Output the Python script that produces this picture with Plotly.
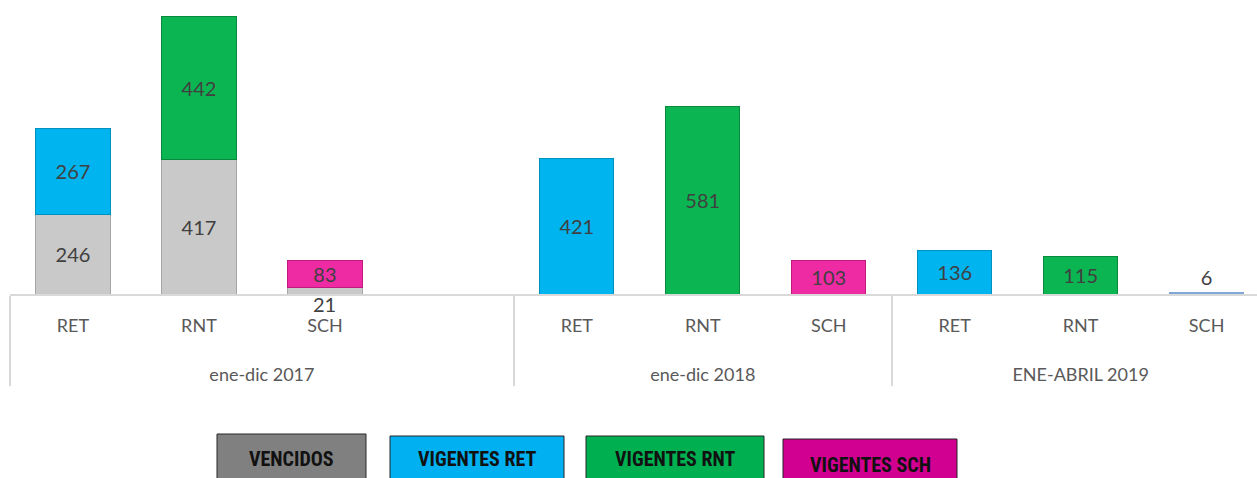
import plotly.graph_objects as go

# categories (the 2017 group carries an empty fourth slot)
periods = ["ene-dic 2017"] * 4 + ["ene-dic 2018"] * 3 + ["ENE-ABRIL 2019"] * 3
types = ["RET", "RNT", "SCH", " ", "RET", "RNT", "SCH", "RET", "RNT", "SCH"]

vencidos = [246, 417, 21, None, None, None, None, None, None, None]
vigentes_ret = [267, None, None, None, 421, None, None, 136, None, None]
vigentes_rnt = [None, 442, None, None, None, 581, None, None, 115, None]
vigentes_sch = [None, None, 83, None, None, None, 103, None, None, 6]

legend_names = ["VENCIDOS", "VIGENTES RET", "VIGENTES RNT", "VIGENTES SCH"]

W, H = 1257, 478
M_L, M_R, M_T, M_B = 10, 0, 5, 184
PLOT_H = H - M_T - M_B

LABEL_FONT = dict(family="Lato, 'Open Sans', sans-serif", size=20, color="#404040")
AXIS_FONT = dict(family="Lato, 'Open Sans', sans-serif", size=18, color="#595959")

# trailing spacer line under each sub label pushes the period row down
SPACER = "<br><span style='font-size:51px'> </span>"

fig = go.Figure()


def add_series(values, color, edge, name, text=None, positions="inside"):
    if text is None:
        text = ["" if v is None else str(v) for v in values]
    fig.add_trace(go.Bar(
        x=[periods, [t + SPACER for t in types]], y=values, name=name,
        marker=dict(color=color, line=dict(color=edge, width=1)),
        text=text, texttemplate="%{text}", textangle=0,
        textposition=positions, insidetextanchor="middle",
        textfont=LABEL_FONT, outsidetextfont=LABEL_FONT, insidetextfont=LABEL_FONT,
        constraintext="none", cliponaxis=False,
        showlegend=False, hoverinfo="skip",
    ))


# the small vencidos SCH value is written below the axis, not inside its bar
ven_text = ["" if (v is None or i == 2) else str(v) for i, v in enumerate(vencidos)]
add_series(vencidos, "#c9c9c9", "#a6a6a6", legend_names[0], text=ven_text)
add_series(vigentes_ret, "#00b4f0", "#0090c0", legend_names[1])
add_series(vigentes_rnt, "#0bb552", "#078a3c", legend_names[2])
# last SCH point (2019) is drawn as a thin light-blue line with its label on top
sch_fill = ["#ef2ba4"] * 9 + ["#7fa8d6"]
sch_edge = ["#c01a80"] * 9 + ["#7fa8d6"]
add_series(vigentes_sch, sch_fill, sch_edge, legend_names[3],
           positions=["inside"] * 9 + ["outside"])

fig.add_annotation(
    x=2, y=0, xref="x", yref="y", text=str(vencidos[2]), showarrow=False,
    yanchor="top", yshift=4, font=LABEL_FONT,
)


def py(px):
    # pixel row -> paper y
    return (H - M_B - px) / PLOT_H


def pxx(px):
    return (px - M_L) / (W - M_L - M_R)


legend_boxes = [
    (217, 366, 434, 459, "#808080"),
    (390, 564, 436, 459, "#00b0f0"),
    (586, 764, 436, 459, "#00b050"),
    (783, 957, 439, 465, "#d10090"),
]
for (x0, x1, y0, ty, col), name in zip(legend_boxes, legend_names):
    fig.add_shape(type="rect", xref="paper", yref="paper",
                  x0=pxx(x0), x1=pxx(x1), y0=py(y0), y1=py(H + 5),
                  fillcolor=col, line=dict(color="#262626", width=1))
    fig.add_annotation(
        xref="paper", yref="paper", x=pxx((x0 + x1) / 2), y=py(ty),
        xanchor="center", yanchor="middle",
        text=f"<b>{name}</b>", showarrow=False,
        font=dict(family="'Liberation Sans Narrow', 'Arial Narrow', 'Roboto Condensed', sans-serif",
                  size=20, color="#111111"),
    )

fig.update_layout(
    width=W, height=H,
    margin=dict(l=M_L, r=M_R, t=M_T, b=M_B, autoexpand=False),
    barmode="stack", bargap=0.41,
    plot_bgcolor="white", paper_bgcolor="white",
    showlegend=False, hovermode=False,
    xaxis=dict(
        type="multicategory", range=[-0.5, 9.4], automargin=False,
        showline=True, linecolor="#d9d9d9", linewidth=2,
        showdividers=True, dividercolor="#d9d9d9", dividerwidth=2,
        tickfont=AXIS_FONT, ticklabelstandoff=14,
        showgrid=False,
    ),
    yaxis=dict(
        range=[0, 895], visible=False, showgrid=False, zeroline=False,
    ),
)

fig.write_html(
    "out.html",
    config={"displayModeBar": False, "staticPlot": True},
    post_script="document.body.style.margin='0';",
)
